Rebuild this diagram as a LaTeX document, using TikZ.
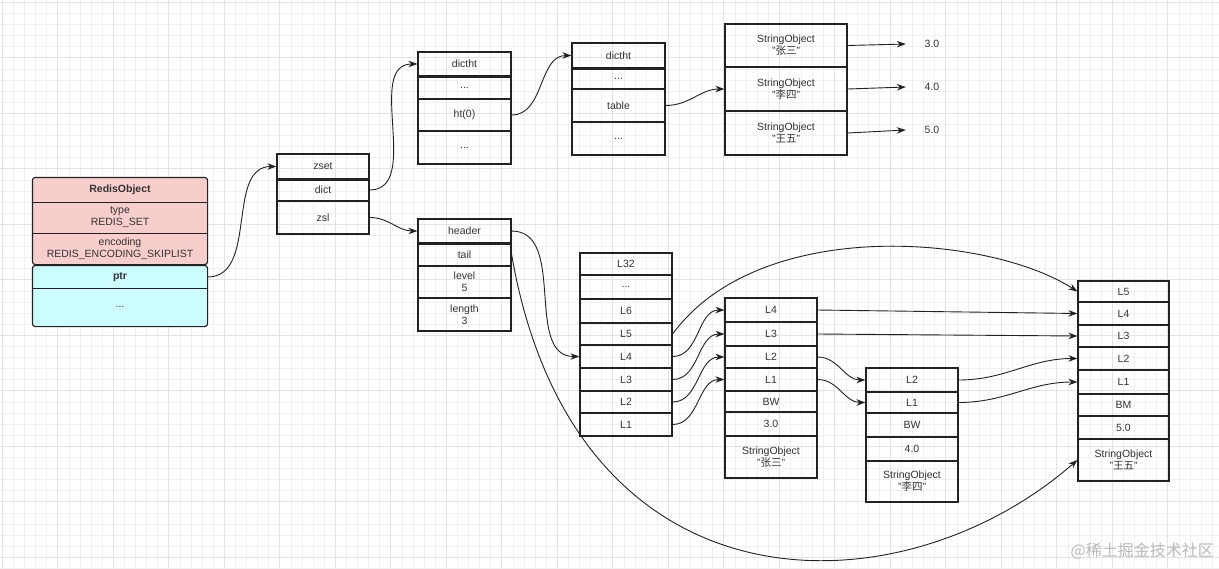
\documentclass[tikz,border=0pt]{standalone}
\usepackage{fontspec}
\setmainfont{Liberation Sans}
\newfontfamily\cjk{Noto Sans CJK SC}
\usetikzlibrary{arrows.meta}
\definecolor{ln}{HTML}{222222}
\definecolor{tx}{HTML}{333333}
\definecolor{pinkc}{HTML}{F8CECC}
\definecolor{cyanc}{HTML}{CCFCFF}
\definecolor{gridc}{HTML}{F0F0F0}
\definecolor{gridm}{HTML}{E3E3E3}
\newcommand\zh[1]{{\cjk #1}}
\newcommand\rb[7][]{\node[row,#1, minimum width={#5pt-#3pt}, minimum height={#6pt-#4pt}] (#2) at ({(#3+#5)/2},{(#4+#6)/2}) {#7};}
\tikzset{
  row/.style={draw=ln, line width=1.2pt, inner sep=0pt, align=center, text=tx, font=\fontsize{10.5}{12}\selectfont},
  plain/.style={draw=none},
  boldtext/.style={font=\fontsize{10.5}{12}\selectfont\bfseries},
  sep/.style={draw=ln, line width=1.2pt},
  thicksep/.style={draw=ln, line width=2.2pt},
  arr/.style={draw=ln, line width=0.9pt, -{Stealth[length=9pt,width=6.5pt]}},
  val/.style={text=tx, font=\fontsize{10.5}{12}\selectfont, minimum width=52pt, inner sep=0pt}
}
\begin{document}
\begin{tikzpicture}[x=1pt,y=-1pt]
\useasboundingbox (0,0) rectangle (1219,568);
\fill[white] (0,0) rectangle (1219,568);
% grid
\foreach \i in {0,...,110} {
  \draw[gridc, line width=0.6pt] ({2.2+11.1*\i},0) -- ({2.2+11.1*\i},568);
}
\foreach \i in {0,...,51} {
  \draw[gridc, line width=0.6pt] (0,{2.2+11.1*\i}) -- (1219,{2.2+11.1*\i});
}
\foreach \i in {0,...,22} {
  \draw[gridm, line width=0.6pt] ({2.2+55.5*\i},0) -- ({2.2+55.5*\i},568);
}
\foreach \i in {0,...,10} {
  \draw[gridm, line width=0.6pt] (0,{2.2+55.5*\i}) -- (1219,{2.2+55.5*\i});
}

% RedisObject
\fill[pinkc, rounded corners=3pt] (33,178) rectangle (207,264);
\fill[cyanc, rounded corners=3pt] (33,266) rectangle (207,326);
\rb[plain,boldtext]{roT}{33}{178}{207}{202}{RedisObject}
\rb[plain]{roType}{33}{202}{207}{233}{type\\REDIS\_SET}
\rb[plain]{roEnc}{33}{233}{207}{264}{encoding\\REDIS\_ENCODING\_SKIPLIST}
\rb[plain,boldtext]{roPtr}{33}{266}{207}{288}{ptr}
\rb[plain]{roDots}{33}{288}{207}{326}{...}
\draw[sep, rounded corners=3pt] (roT.north west) rectangle (roEnc.south east);
\draw[sep, rounded corners=3pt] (roPtr.north west) rectangle (roDots.south east);
\draw[sep] (roT.south west) -- (roT.south east);
\draw[sep] (roType.south west) -- (roType.south east);
\draw[sep] (roPtr.south west) -- (roPtr.south east);

% zset
\rb{zsH}{277}{154}{369}{179}{zset}
\rb{zsDict}{277}{179}{369}{201}{dict}
\rb{zsZsl}{277}{201}{369}{234}{zsl}
\draw[thicksep] (zsH.south west) -- (zsH.south east);

% dictht 1
\rb{daH}{418}{52}{511}{76}{dictht}
\rb{daD1}{418}{76}{511}{99}{...}
\rb{daHt}{418}{99}{511}{131}{ht(0)}
\rb{daD2}{418}{131}{511}{164}{...}
\draw[thicksep] (daH.south west) -- (daH.south east);

% dictht 2
\rb{dbH}{572}{43}{665}{68}{dictht}
\rb{dbD1}{572}{68}{665}{89}{...}
\rb{dbTab}{572}{89}{665}{122}{table}
\rb{dbD2}{572}{122}{665}{155}{...}
\draw[thicksep] (dbH.south west) -- (dbH.south east);

% string objects in dict
\rb{sA}{725}{24}{847}{67}{StringObject\\"\zh{张三}"}
\rb{sB}{725}{67}{847}{111}{StringObject\\"\zh{李四}"}
\rb{sC}{725}{111}{847}{155}{StringObject\\"\zh{王五}"}
\node[val] (vA) at (932,44) {3.0};
\node[val] (vB) at (932,87) {4.0};
\node[val] (vC) at (932,130) {5.0};

% zskiplist
\rb{zlHead}{418}{219}{511}{243}{header}
\rb{zlTail}{418}{243}{511}{266}{tail}
\rb{zlLevel}{418}{266}{511}{298}{level\\5}
\rb{zlLen}{418}{298}{511}{331}{length\\3}
\draw[thicksep] (zlHead.south west) -- (zlHead.south east);

% header node
\rb{hL32}{580}{253}{672}{275}{L32}
\rb{hDots}{580}{275}{672}{299}{...}
\rb{hL6}{580}{299}{672}{323}{L6}
\rb{hL5}{580}{323}{672}{345}{L5}
\rb{hL4}{580}{345}{672}{368}{L4}
\rb{hL3}{580}{368}{672}{391}{L3}
\rb{hL2}{580}{391}{672}{413}{L2}
\rb{hL1}{580}{413}{672}{436}{L1}

% node 1
\rb{aL4}{725}{298}{817}{322}{L4}
\rb{aL3}{725}{322}{817}{346}{L3}
\rb{aL2}{725}{346}{817}{368}{L2}
\rb{aL1}{725}{368}{817}{391}{L1}
\rb{aBW}{725}{391}{817}{412}{BW}
\rb{aSc}{725}{412}{817}{436}{3.0}
\rb{aObj}{725}{436}{817}{478}{StringObject\\"\zh{张三}"}

% node 2
\rb{bL2}{866}{368}{958}{392}{L2}
\rb{bL1}{866}{392}{958}{413}{L1}
\rb{bBW}{866}{413}{958}{437}{BW}
\rb{bSc}{866}{437}{958}{461}{4.0}
\rb{bObj}{866}{461}{958}{502}{StringObject\\"\zh{李四}"}

% node 3
\rb{cL5}{1078}{281}{1169}{302}{L5}
\rb{cL4}{1078}{302}{1169}{325}{L4}
\rb{cL3}{1078}{325}{1169}{347}{L3}
\rb{cL2}{1078}{347}{1169}{370}{L2}
\rb{cL1}{1078}{370}{1169}{394}{L1}
\rb{cBM}{1078}{394}{1169}{416}{BM}
\rb{cSc}{1078}{416}{1169}{439}{5.0}
\rb{cObj}{1078}{439}{1169}{481}{StringObject\\"\zh{王五}"}

% connectors
\draw[arr] (roPtr.east) to[out=0,in=180] (zsH.west);
\draw[arr] (zsDict.east) to[out=0,in=180] (daH.west);
\draw[arr] (zsZsl.east) to[out=0,in=180] (zlHead.west);
\draw[arr] (daHt.east) to[out=0,in=180] (dbH.west);
\draw[arr] (dbTab.east) to[out=0,in=180] (sB.west);
\draw[arr] (sA.east) -- (vA.west);
\draw[arr] (sB.east) -- (vB.west);
\draw[arr] (sC.east) -- (vC.west);

\draw[arr] (zlHead.east) to[out=0,in=180] (hL4.west);
\draw[arr] (zlTail.east) .. controls (575,620) and (900,615) .. (cObj.west);

\draw[arr] (hL5.east) .. controls (760,215) and (990,235) .. (cL5.west);
\draw[arr] (hL4.east) to[out=0,in=180] (aL4.west);
\draw[arr] (hL3.east) to[out=0,in=180] (aL3.west);
\draw[arr] (hL2.east) to[out=0,in=180] (aL2.west);
\draw[arr] (hL1.east) to[out=0,in=180] (aL1.west);

\draw[arr] (aL4.east) -- (cL4.west);
\draw[arr] (aL3.east) -- (cL3.west);
\draw[arr] (aL2.east) to[out=0,in=180] (bL2.west);
\draw[arr] (aL1.east) to[out=0,in=180] (bL1.west);
\draw[arr] (bL2.east) to[out=0,in=180] (cL2.west);
\draw[arr] (bL1.east) to[out=0,in=180] (cL1.west);

% watermark
\node[text=gray!55, font=\cjk\fontsize{16}{16}\selectfont, anchor=east, inner sep=0pt] (wm) at (1214,551) {@稀土掘金技术社区};
\end{tikzpicture}
\end{document}
